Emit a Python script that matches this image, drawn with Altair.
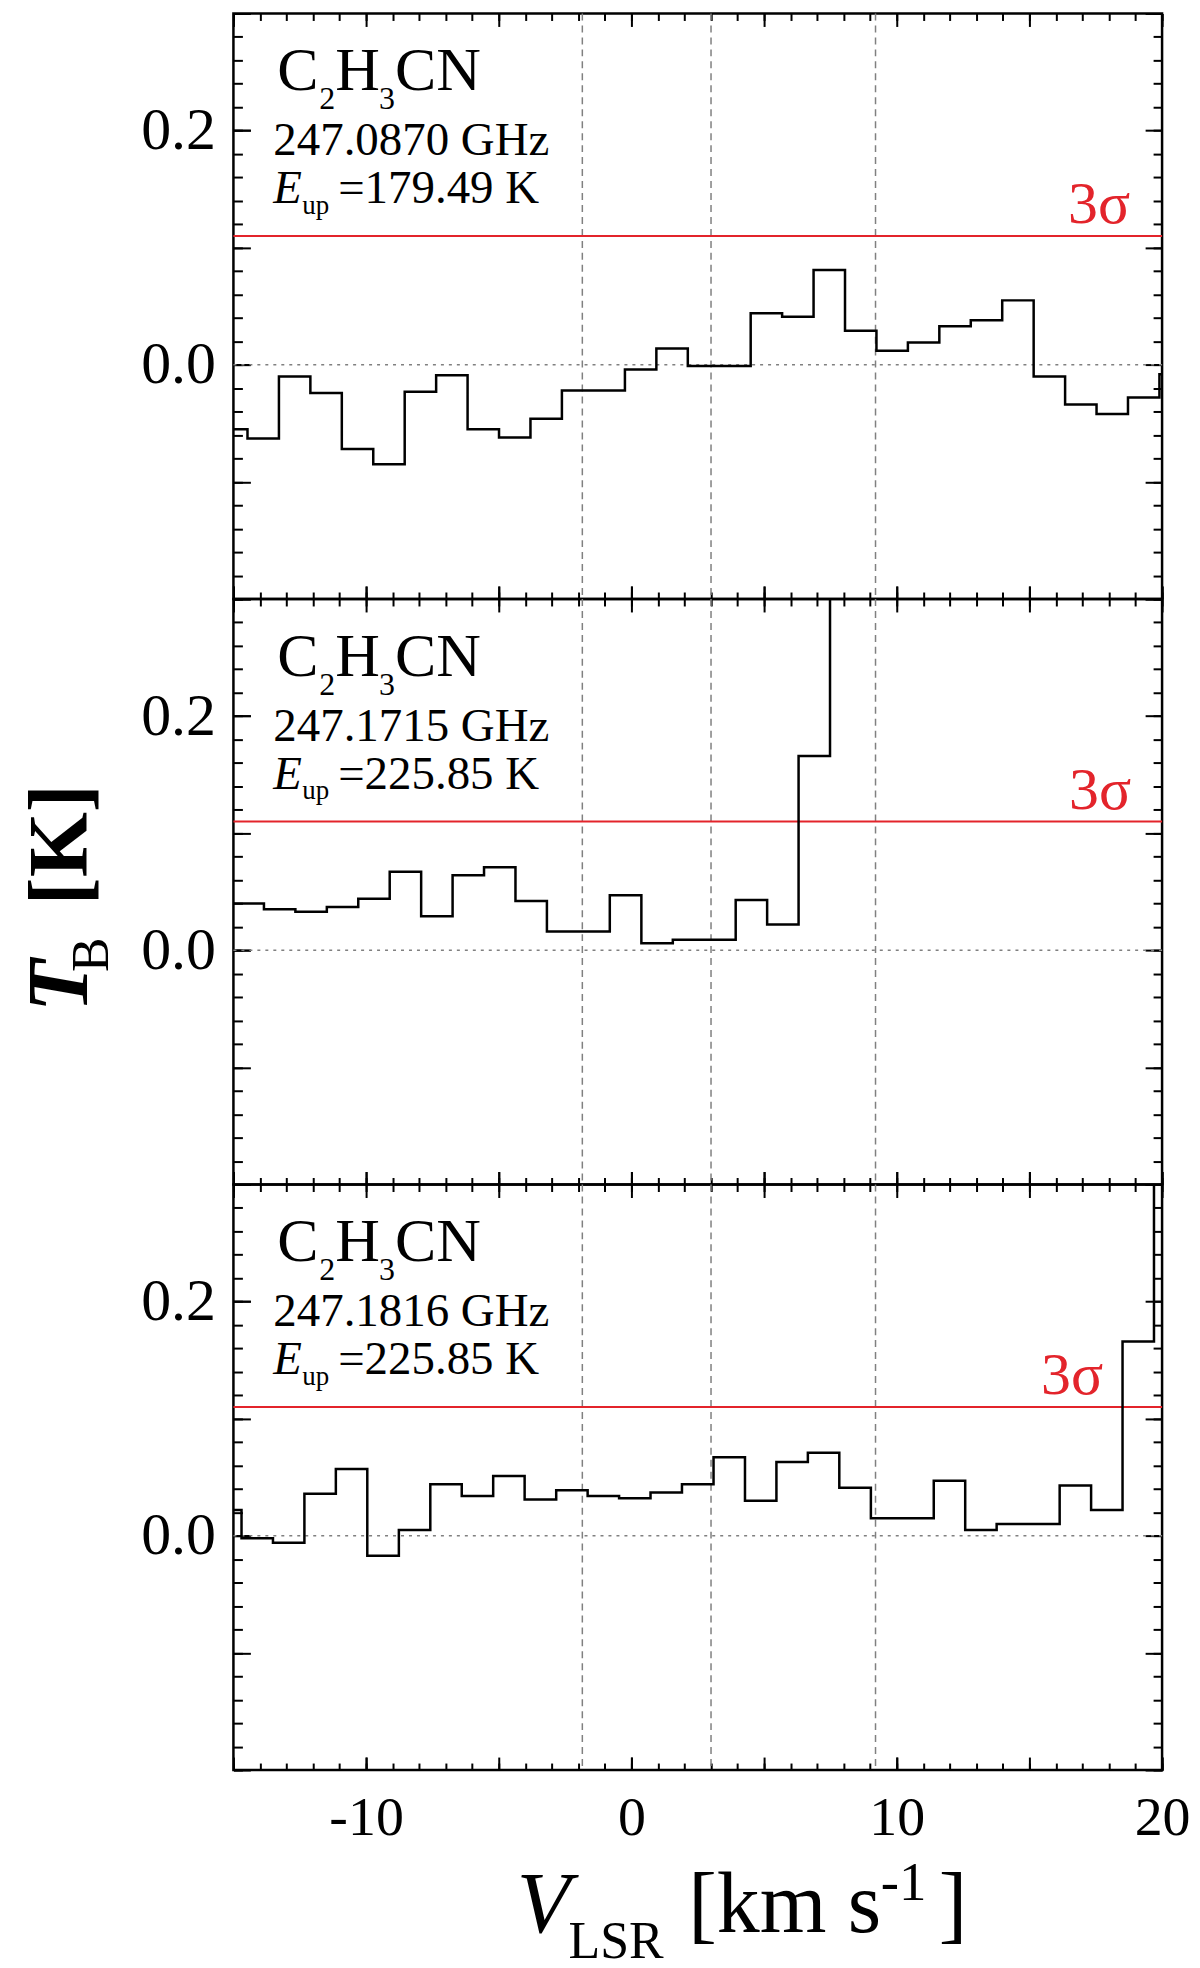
import altair as alt
import pandas as pd

FONT = "Liberation Serif"
RED = "#e3242b"
GREY = "#808080"

X_DOMAIN = [-15, 20]
Y_DOMAIN = [-0.2, 0.3]
W, H = 931, 587

# velocity lines (km/s) and 3-sigma level (K)
VLINES = [-1.85, 3.0, 9.2]
SIGMA3 = 0.11

# channel velocities (km/s) and brightness temperatures (K) per panel
top_v = [-15.06, -13.88, -12.69, -11.51, -10.32, -9.14, -7.95, -6.77, -5.58, -4.40,
         -3.21, -2.03, -0.84, 0.35, 1.53, 2.72, 3.90, 5.09, 6.27, 7.46,
         8.64, 9.83, 11.01, 12.20, 13.38, 14.57, 15.75, 16.94, 18.12, 19.31, 20.49]
top_tb = [-0.055, -0.063, -0.010, -0.024, -0.072, -0.085, -0.023, -0.009, -0.055, -0.062,
          -0.046, -0.022, -0.022, -0.004, 0.014, -0.001, -0.001, 0.044, 0.041, 0.081,
          0.029, 0.012, 0.019, 0.033, 0.038, 0.055, -0.010, -0.034, -0.042, -0.028, -0.008]

mid_v = [-14.44, -13.26, -12.07, -10.89, -9.70, -8.52, -7.33, -6.15, -4.96, -3.78,
         -2.59, -1.41, -0.22, 0.97, 2.15, 3.34, 4.52, 5.71, 6.89, 8.08, 9.26]
mid_tb = [0.040, 0.035, 0.033, 0.037, 0.044, 0.067, 0.029, 0.064, 0.071, 0.042,
          0.016, 0.016, 0.047, 0.006, 0.009, 0.009, 0.043, 0.022, 0.166, 0.52, 0.85]

bot_v = [-15.29, -14.10, -12.92, -11.73, -10.55, -9.36, -8.17, -6.99, -5.80, -4.62,
         -3.43, -2.24, -1.06, 0.13, 1.31, 2.50, 3.69, 4.87, 6.06, 7.24,
         8.43, 9.62, 10.80, 11.99, 13.17, 14.36, 15.55, 16.73, 17.92, 19.10, 20.29]
bot_tb = [0.022, -0.002, -0.006, 0.036, 0.057, -0.017, 0.005, 0.044, 0.034, 0.051,
          0.031, 0.039, 0.034, 0.032, 0.037, 0.044, 0.067, 0.030, 0.063, 0.071,
          0.041, 0.015, 0.015, 0.047, 0.005, 0.010, 0.010, 0.043, 0.022, 0.166, 0.52]

freqs = ["247.0870 GHz", "247.1715 GHz", "247.1816 GHz"]
eups = ["=179.49 K", "=225.85 K", "=225.85 K"]

X_LABELS = [-10, 0, 10, 20]
Y_LABELS = [0.0, 0.2]
X_MAJOR = list(range(-15, 21, 5))
X_MINOR = list(range(-15, 21))
Y_MAJOR = [-0.2, -0.1, 0.0, 0.1, 0.2, 0.3]
Y_MINOR = [round(-0.2 + 0.02 * i, 2) for i in range(26)]

xs = alt.Scale(domain=X_DOMAIN, nice=False, zero=False)
ys = alt.Scale(domain=Y_DOMAIN, nice=False, zero=False)
ONE = pd.DataFrame({"a": [0]})


def step_frame(v, tb):
    edges = []
    for i in range(len(v)):
        if i == 0:
            edges.append(v[0] - (v[1] - v[0]) / 2)
        else:
            edges.append((v[i - 1] + v[i]) / 2)
    edges.append(v[-1] + (v[-1] - v[-2]) / 2)
    return pd.DataFrame({"v": edges, "tb": list(tb) + [tb[-1]]})


def ax(orient, values, size, label_expr=None, pad=0, baseline=None, offset=None, fsize=60):
    kw = dict(orient=orient, values=values, tickSize=size,
              offset=(-size if offset is None else offset),
              domain=False, grid=False, title=None, ticks=True,
              tickColor="black", tickWidth=2, minExtent=0)
    if label_expr:
        kw.update(labels=True, labelExpr=label_expr, labelFont=FONT,
                  labelFontSize=fsize, labelColor="black", labelPadding=pad,
                  labelFlush=False, labelOverlap=False)
        if baseline:
            kw["labelBaseline"] = baseline
    else:
        kw["labels"] = False
    return alt.Axis(**kw)


def axis_layer(xaxis, yaxis):
    return alt.Chart(ONE).transform_calculate(x="0", y="0").mark_point(opacity=0).encode(
        x=alt.X("x:Q", scale=xs, axis=xaxis),
        y=alt.Y("y:Q", scale=ys, axis=yaxis),
    )


def txt(s, x, y, size, style="normal", weight="normal", angle=0, color="black", align="left"):
    return alt.Chart(ONE).mark_text(
        text=s, font=FONT, fontSize=size, fontStyle=style, fontWeight=weight,
        angle=angle, align=align, baseline="alphabetic", color=color,
    ).encode(x=alt.value(x), y=alt.value(y))


def panel(idx, v, tb, sig_x, bottom=False, middle=False):
    line = alt.Chart(step_frame(v, tb)).mark_line(
        interpolate="step-after", color="black", strokeWidth=2.5, clip=True
    ).encode(x=alt.X("v:Q", scale=xs, axis=None), y=alt.Y("tb:Q", scale=ys, axis=None))
    vl = alt.Chart(pd.DataFrame({"v": VLINES})).mark_rule(
        color=GREY, strokeDash=[7, 5], strokeWidth=1.5
    ).encode(x=alt.X("v:Q", scale=xs, axis=None))
    zero = alt.Chart(pd.DataFrame({"y": [0.0]})).mark_rule(
        color=GREY, strokeDash=[3, 5], strokeWidth=1.5
    ).encode(y=alt.Y("y:Q", scale=ys, axis=None))
    sig = alt.Chart(pd.DataFrame({"y": [SIGMA3]})).mark_rule(
        color=RED, strokeWidth=2
    ).encode(y=alt.Y("y:Q", scale=ys, axis=None))
    sigtxt = alt.Chart(pd.DataFrame({"y": [SIGMA3], "t": ["3σ"]})).mark_text(
        font=FONT, fontSize=60, color=RED, align="right", baseline="alphabetic", dy=-13
    ).encode(x=alt.value(sig_x), y=alt.Y("y:Q", scale=ys, axis=None), text="t:N")

    labels = [
        txt("C", 44, 77, 62),
        txt("2", 86, 96, 32),
        txt("H", 102, 77, 62),
        txt("3", 146, 96, 32),
        txt("CN", 162, 77, 62),
        txt(freqs[idx], 40, 142, 47),
        txt("E", 40, 190, 47, style="italic"),
        txt("up", 69, 201, 27),
        txt(eups[idx], 105, 190, 47),
    ]
    extra = []
    if middle:
        extra += [
            txt("T", -147, 414, 86, style="italic", weight="bold", angle=270),
            txt("B", -126, 374, 52, angle=270),
            txt("[K]", -147, 307, 84, weight="bold", angle=270),
        ]
    if bottom:
        extra += [
            txt("V", 284, 749, 88, style="italic"),
            txt("LSR", 336, 775, 52),
            txt("[km s", 456, 749, 86),
            txt("-1", 649, 717, 55),
            txt("]", 707, 749, 86),
        ]

    ylab = "format(datum.value, '.1f')"
    if bottom:
        xlab_axis = ax("bottom", X_LABELS, 13, "'' + datum.value", pad=65,
                       baseline="alphabetic", fsize=56)
    else:
        xlab_axis = ax("bottom", X_MAJOR, 13)
    axes = [
        axis_layer(xlab_axis, ax("left", Y_LABELS, 17, ylab, pad=18, baseline="middle")),
        axis_layer(ax("bottom", X_MAJOR, 13), ax("left", Y_MAJOR, 17)),
        axis_layer(ax("bottom", X_MINOR, 7), ax("left", Y_MINOR, 9)),
        # ticks along the top and right edges, pointing inward
        axis_layer(ax("bottom", X_MAJOR, 13, offset=-H), ax("left", Y_MAJOR, 17, offset=-W)),
        axis_layer(ax("bottom", X_MINOR, 7, offset=-H), ax("left", Y_MINOR, 9, offset=-W)),
    ]
    return alt.layer(vl, zero, sig, line, sigtxt, *labels, *extra, *axes).resolve_axis(
        x="independent", y="independent"
    ).properties(width=W, height=H)


chart = alt.vconcat(
    panel(0, top_v, top_tb, 899),
    panel(1, mid_v, mid_tb, 900, middle=True),
    panel(2, bot_v, bot_tb, 872, bottom=True),
    spacing=0,
    bounds="flush",
).properties(
    padding={"left": 8, "top": 0, "right": 0, "bottom": 0},
    background="white",
).configure_view(stroke="black", strokeWidth=2.5)

chart.save("out.html", embed_options={"renderer": "svg", "actions": False})
